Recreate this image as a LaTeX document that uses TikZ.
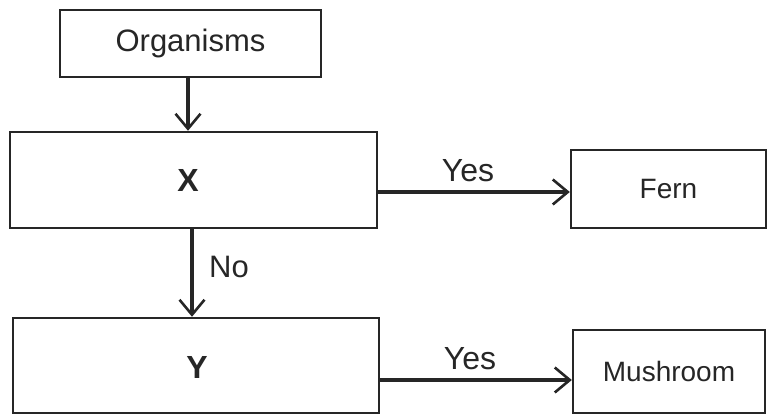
\documentclass[tikz,border=0pt]{standalone}
\usepackage{fontspec}
\setmainfont{Liberation Sans}
\usetikzlibrary{arrows.meta}
\begin{document}
\begin{tikzpicture}[x=1pt,y=-1pt,
  box/.style={draw=black!85, line width=2.4pt, inner sep=0pt},
  conn/.style={draw=black!85, line width=3.2pt, -{Straight Barb[length=15pt,width=25pt,line width=2.6pt]}},
  lbl/.style={font=\fontsize{31}{31}\selectfont, text=black!85},
  big/.style={font=\fontsize{32}{32}\selectfont\bfseries, text=black!85}]
\useasboundingbox (0,0) rectangle (769,419);
\node[box, minimum width=261pt, minimum height=67pt, lbl] (org) at (190.5,43.5) {Organisms};
\node[box, minimum width=367pt, minimum height=96pt] (x) at (193.5,180) {};
\node[big] (xt) at (188,180) {X};
\node[box, minimum width=195pt, minimum height=78pt, font=\fontsize{28}{28}\selectfont, text=black!85] (fern) at (668.5,189) {Fern};
\node[box, minimum width=366pt, minimum height=95pt] (y) at (196,365.5) {};
\node[big] (yt) at (197,367) {Y};
\node[box, minimum width=192pt, minimum height=83pt, font=\fontsize{28}{28}\selectfont, text=black!85] (mush) at (669,371.5) {Mushroom};
\coordinate (a1) at (188,77);
\coordinate (a2) at (188,132);
\draw[conn] (org.south -| a1) -- (x.north -| a2);
\coordinate (b1) at (192,228);
\draw[conn] (x.south -| b1) -- (y.north -| b1);
\coordinate (c1) at (0,192);
\draw[conn] (x.east |- c1) -- (fern.west |- c1);
\coordinate (d1) at (0,380);
\draw[conn] (y.east |- d1) -- (mush.west |- d1);
\node[lbl, font=\fontsize{32}{32}\selectfont] (yes1) at (468,171) {Yes};
\node[lbl, font=\fontsize{32}{32}\selectfont] (yes2) at (470,359) {Yes};
\node[lbl] (no) at (229,267) {No};
\end{tikzpicture}
\end{document}
